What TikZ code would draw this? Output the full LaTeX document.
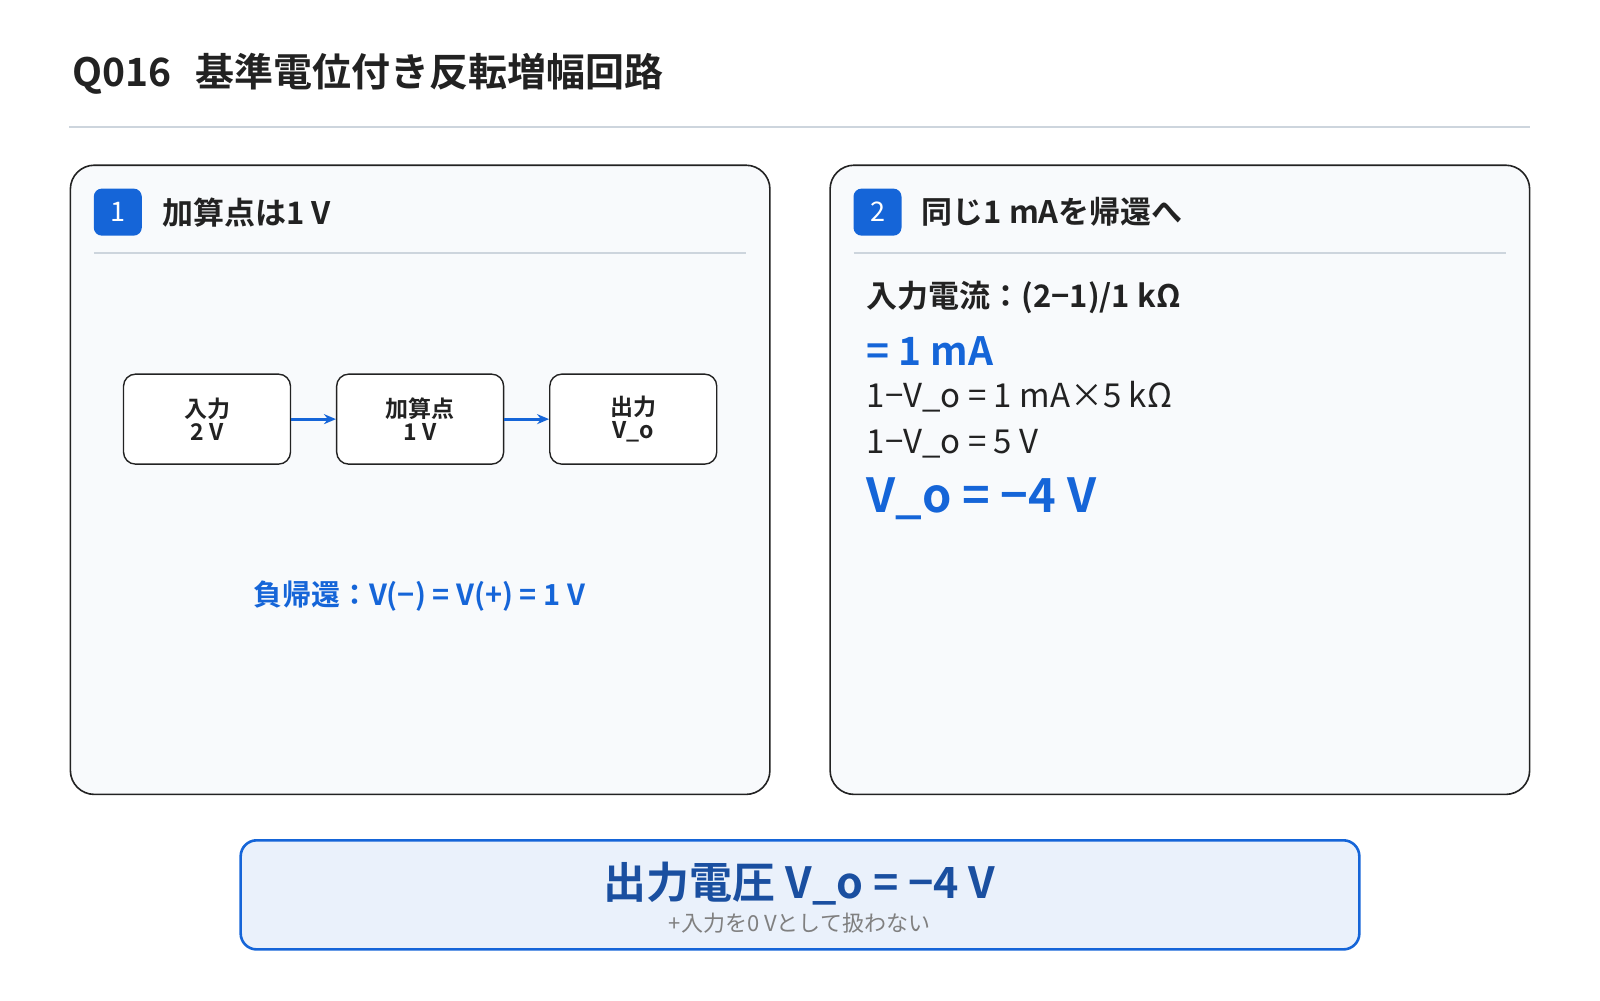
\documentclass[tikz,border=0pt]{standalone}
\usepackage{fontspec}
\setmainfont{Noto Sans CJK JP}
\newfontfamily\jpb{Noto Sans CJK JP Bold}
\usetikzlibrary{arrows.meta}
\definecolor{blu}{HTML}{1565D8}
\definecolor{dblu}{HTML}{1A4FA0}
\definecolor{txt}{HTML}{222222}
\definecolor{pan}{HTML}{F8FAFC}
\definecolor{rul}{HTML}{CDD5DD}
\newcommand{\fsz}[1]{\fontsize{#1}{#1}\selectfont}
\begin{document}
\begin{tikzpicture}[x=0.51pt,y=-0.51pt,
 panel/.style={draw=txt,line width=0.8pt,fill=pan,rounded corners=12pt},
 badge/.style={fill=blu,rounded corners=4pt,minimum width=24pt,minimum height=23.5pt,text=white,font=\fsz{13.5pt}},
 head/.style={anchor=west,text=txt,font=\jpb\fsz{15.5pt}},
 box/.style={draw=txt,line width=0.7pt,fill=white,rounded corners=6pt,minimum width=83.5pt,minimum height=45pt,align=center,font=\jpb\fsz{11.5pt},text=txt,inner sep=0pt},
 arr/.style={-{Stealth[length=6pt,width=5pt]},blu,line width=1.6pt},
 ln/.style={anchor=west,text=txt}]
\useasboundingbox (0,0) rectangle (1569,981);
\node[anchor=west,text=txt,font=\jpb\fsz{19.5pt}] (title) at (64,72) {Q016\hspace{12pt}基準電位付き反転増幅回路};
\draw[rul,line width=1pt] (68,125) -- (1500,125);
% panel 1
\draw[panel] (69,162) rectangle (755,779);
\node[badge] (b1) at (115.5,208) {1};
\node[head] (h1) at (152,208) {加算点は1 V};
\draw[rul,line width=0.8pt] (92,248) -- (732,248);
\node[box] (in) at (203,411) {入力\\2 V};
\node[box] (sum) at (412,411) {加算点\\1 V};
\node[box] (out) at (621,411) {出力\\V\_o};
\draw[arr] (in) -- (sum);
\draw[arr] (sum) -- (out);
\node[text=blu,font=\jpb\fsz{14.5pt}] (fb) at (411,585) {負帰還：V(−) = V(+) = 1 V};
% panel 2
\draw[panel] (814,162) rectangle (1500,779);
\node[badge] (b2) at (860.5,208) {2};
\node[head] (h2) at (897,208) {同じ1 mAを帰還へ};
\draw[rul,line width=0.8pt] (837,248) -- (1477,248);
\node[ln,font=\jpb\fsz{15.5pt}] (l1) at (843,292) {入力電流：(2−1)/1 kΩ};
\node[ln,text=blu,font=\jpb\fsz{19.5pt}] (l2) at (843,344) {= 1 mA};
\node[ln,font=\fsz{16.5pt}] (l3) at (843,389) {1−V\_o = 1 mA×5 kΩ};
\node[ln,font=\fsz{16.5pt}] (l4) at (843,435) {1−V\_o = 5 V};
\node[ln,text=blu,font=\jpb\fsz{23.5pt}] (l5) at (843,489) {V\_o = −4 V};
% result
\draw[blu,line width=1.3pt,fill=blu!9,rounded corners=8pt] (236,824) rectangle (1333,931);
\node[text=dblu,font=\jpb\fsz{21.5pt}] (res) at (784,866) {出力電圧 V\_o = −4 V};
\node[text=gray,font=\fsz{11pt}] (sub) at (784,905) {+入力を0 Vとして扱わない};
\end{tikzpicture}
\end{document}
